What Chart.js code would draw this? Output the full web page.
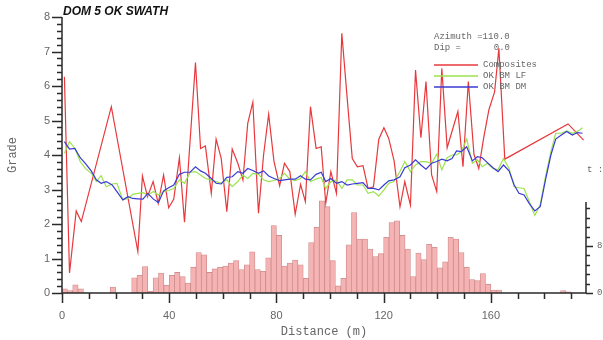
<!DOCTYPE html>
<html>
<head>
<meta charset="utf-8">
<script src="https://cdn.jsdelivr.net/npm/chart.js@4/dist/chart.umd.min.js"></script>
<style>
  html, body { margin: 0; padding: 0; background: #fff; }
  #box { width: 603px; height: 340px; }
</style>
</head>
<body>
<div id="box"><canvas id="swath" width="603" height="340"></canvas></div>
<script>
// composite samples along the swath
const compDist = [0.9, 2.8, 5.3, 7.2, 18.4, 28.3, 30.0, 31.9, 34.0, 35.9, 37.9, 39.8, 41.7, 43.8, 45.7,
  49.8, 51.7, 53.5, 55.7, 57.5, 59.4, 61.5, 63.5, 65.6, 67.5, 69.3, 71.2, 73.3, 75.2, 77.1,
  79.1, 81.2, 83.0, 85.0, 87.0, 89.0, 90.8, 92.7, 94.8, 96.7, 98.4, 100.3, 102.4, 104.4, 106.4,
  108.3, 110.2, 112.3, 114.2, 116.2, 118.2, 120.1, 121.9, 123.9, 126.1, 127.9, 130.0, 131.9, 133.9, 135.8,
  137.9, 139.8, 141.7, 143.7, 147.7, 149.6, 151.6, 153.7, 155.5, 157.4, 159.3, 161.4, 163.0, 165.2, 188.8, 194.6];
const compGrade = [6.27, 0.58, 2.38, 2.07, 5.40, 1.20, 3.39, 2.79, 3.23, 2.60, 3.42, 2.47, 2.72, 3.92, 2.05,
  6.68, 4.19, 4.26, 2.89, 4.46, 3.90, 2.36, 4.17, 3.76, 3.27, 4.92, 5.53, 2.31, 4.00, 5.18,
  3.81, 3.11, 3.76, 3.52, 2.28, 3.15, 2.65, 5.40, 4.19, 4.24, 2.60, 3.52, 2.89, 7.53, 5.64,
  3.90, 3.66, 3.69, 3.03, 3.08, 4.46, 4.79, 4.48, 3.83, 2.50, 3.23, 2.55, 6.46, 4.50, 6.13,
  3.42, 2.94, 6.51, 4.21, 5.26, 3.66, 6.13, 4.02, 3.61, 4.53, 5.32, 5.83, 7.09, 3.88, 4.90, 4.43];

// block model slice centres
const modelDist = [0.9, 2.8, 4.8, 6.8, 8.7, 10.9, 12.8, 14.6, 16.5, 18.7, 20.5, 22.7, 24.6, 26.4, 28.3,
  30.2, 32.0, 34.1, 36.0, 37.9, 39.8, 41.7, 43.8, 45.7, 47.8, 49.8, 51.7, 53.5, 55.7, 57.5,
  59.4, 61.5, 63.5, 65.6, 67.5, 69.3, 71.2, 73.3, 75.2, 77.1, 79.1, 81.2, 83.0, 85.0, 87.0,
  89.0, 90.8, 92.7, 94.8, 96.7, 98.4, 100.3, 102.4, 104.4, 106.4, 108.3, 110.2, 112.3, 114.2, 116.2,
  118.2, 120.1, 121.9, 123.9, 126.1, 127.9, 130.0, 131.9, 133.9, 135.8, 137.9, 139.8, 141.7, 143.7, 145.5,
  147.2, 149.0, 151.0, 153.1, 155.0, 156.8, 158.7, 160.8, 162.7, 164.7, 166.8, 168.7, 170.5, 172.4, 174.3,
  176.4, 178.4, 180.5, 182.4, 184.2, 186.3, 188.3, 190.4, 192.3, 194.2];
const gradeLF = [4.05, 4.39, 4.19, 3.81, 3.61, 3.47, 3.23, 3.40, 3.08, 3.16, 3.18, 2.70, 2.74, 2.86, 2.89,
  2.91, 2.84, 2.94, 2.84, 2.94, 2.97, 3.03, 3.28, 3.18, 3.50, 3.52, 3.42, 3.32, 3.28, 3.23,
  3.18, 3.28, 3.08, 3.23, 3.42, 3.32, 3.47, 3.44, 3.28, 3.23, 3.26, 3.32, 3.47, 3.30, 3.26,
  3.32, 3.52, 3.23, 3.30, 3.35, 3.03, 3.23, 3.28, 3.03, 3.28, 3.28, 3.13, 3.13, 2.89, 2.94,
  2.81, 2.99, 3.18, 3.23, 3.52, 3.81, 3.52, 3.71, 3.81, 3.81, 3.76, 4.02, 3.57, 3.92, 4.00,
  4.00, 4.10, 4.46, 3.76, 3.86, 3.66, 3.76, 3.61, 3.57, 3.90, 3.61, 3.08, 3.05, 3.03, 2.65,
  2.25, 2.55, 3.42, 4.10, 4.63, 4.63, 4.70, 4.63, 4.68, 4.79];
const gradeDM = [4.39, 4.17, 4.19, 3.92, 3.76, 3.54, 3.28, 3.18, 3.23, 3.13, 2.94, 2.70, 2.79, 2.74, 2.73,
  2.72, 2.89, 2.72, 2.62, 2.96, 3.05, 3.13, 3.44, 3.50, 3.50, 3.66, 3.54, 3.47, 3.32, 3.18,
  3.16, 3.35, 3.37, 3.52, 3.47, 3.61, 3.55, 3.47, 3.54, 3.39, 3.32, 3.26, 3.28, 3.30, 3.30,
  3.40, 3.30, 3.28, 3.44, 3.50, 3.23, 3.32, 3.18, 3.23, 3.13, 3.16, 3.18, 3.20, 3.03, 3.03,
  2.99, 3.13, 3.25, 3.28, 3.37, 3.63, 3.71, 3.86, 3.71, 3.59, 3.76, 3.81, 3.88, 3.83, 3.90,
  4.12, 4.10, 4.24, 3.83, 3.95, 3.92, 3.78, 3.63, 3.52, 3.71, 3.54, 3.13, 2.89, 2.84, 2.60,
  2.38, 2.50, 3.32, 4.00, 4.46, 4.58, 4.68, 4.58, 4.65, 4.63];

// sample count per 2 m slice (empty slices left out)
const binMid = [1, 3, 5, 7, 19, 27, 29, 31, 33, 35, 37, 39, 41, 43, 45, 47, 49, 51, 53, 55, 57, 59, 61, 63, 65,
  67, 69, 71, 73, 75, 77, 79, 81, 83, 85, 87, 89, 91, 93, 95, 97, 99, 101, 103, 105, 107, 109, 111, 113, 115,
  117, 119, 121, 123, 125, 127, 129, 131, 133, 135, 137, 139, 141, 143, 145, 147, 149, 151, 153, 155, 157, 159,
  161, 163, 187, 189];
const binCount = [7, 4, 14, 7, 10, 26, 30, 45, 3, 26, 34, 13, 30, 35, 28, 17, 44, 69, 65, 35, 41, 44, 46, 51, 55,
  40, 48, 70, 40, 37, 60, 115, 98, 46, 51, 56, 48, 25, 86, 112, 157, 147, 55, 12, 25, 82, 137, 92, 92, 75,
  62, 67, 95, 120, 123, 98, 75, 28, 68, 57, 83, 78, 43, 53, 95, 92, 69, 44, 23, 21, 33, 15,
  5, 5, 4, 2];

const gradeTicks = [0, 1, 2, 3, 4, 5, 6, 7, 8];
const distTicks = [0, 40, 80, 120, 160];
const countTicks = [0, 80];

const RED = '#e8383c', GREEN = '#9be34c', BLUE = '#3a3ad6';
const pts = (xs, ys) => xs.map((v, i) => ({ x: v, y: ys[i] }));

// axes, labels and the annotation block
const swathAxes = {
  id: 'swathAxes',
  afterDraw(chart) {
    const { ctx, chartArea: a } = chart;
    const { x, y, y2 } = chart.scales;
    ctx.save();
    ctx.strokeStyle = '#2a2a2a';
    ctx.lineWidth = 1.5;

    // grade axis
    ctx.beginPath();
    ctx.moveTo(a.left, a.top);
    ctx.lineTo(a.left, a.bottom);
    for (let v = 0; v <= 40; v++) {
      const py = Math.round(y.getPixelForValue(v / 5)) + 0.5;
      const len = v % 5 === 0 ? 10 : 5;
      ctx.moveTo(a.left, py);
      ctx.lineTo(a.left - len, py);
    }
    ctx.stroke();

    // distance axis
    ctx.beginPath();
    ctx.moveTo(a.left, a.bottom);
    ctx.lineTo(a.right, a.bottom);
    for (let d = 0; d <= 190; d += 10) {
      const px = Math.round(x.getPixelForValue(d)) + 0.5;
      const len = d % 40 === 0 ? 10 : 6;
      ctx.moveTo(px, a.bottom);
      ctx.lineTo(px, a.bottom + len);
    }
    ctx.stroke();

    // count axis, lower right
    ctx.beginPath();
    ctx.moveTo(a.right, y2.getPixelForValue(0));
    ctx.lineTo(a.right, y2.getPixelForValue(155));
    for (let c = 0; c <= 144; c += 16) {
      const py = Math.round(y2.getPixelForValue(c)) + 0.5;
      const len = c % 80 === 0 ? 7 : 4;
      ctx.moveTo(a.right, py);
      ctx.lineTo(a.right + len, py);
    }
    ctx.stroke();

    ctx.fillStyle = '#666';
    ctx.font = '11px "Liberation Sans", Arial, sans-serif';
    ctx.textAlign = 'right';
    ctx.textBaseline = 'middle';
    gradeTicks.forEach(v => ctx.fillText(String(v), a.left - 12, y.getPixelForValue(v)));
    ctx.textAlign = 'center';
    ctx.textBaseline = 'top';
    distTicks.forEach(d => ctx.fillText(String(d), x.getPixelForValue(d), a.bottom + 17));

    ctx.font = '9px "Liberation Mono", monospace';
    ctx.textAlign = 'left';
    ctx.textBaseline = 'middle';
    countTicks.forEach(c => ctx.fillText(String(c), a.right + 11, y2.getPixelForValue(c)));
    ctx.fillText('t :', a.right + 1, 170);

    // axis titles
    ctx.font = '12px "Liberation Mono", monospace';
    ctx.textAlign = 'center';
    ctx.fillText('Distance (m)', (a.left + a.right) / 2, 332);
    ctx.save();
    ctx.translate(13, (a.top + a.bottom) / 2);
    ctx.rotate(-Math.PI / 2);
    ctx.fillText('Grade', 0, 0);
    ctx.restore();

    // chart title
    ctx.fillStyle = '#111';
    ctx.font = 'italic bold 12px "Liberation Sans", Arial, sans-serif';
    ctx.textAlign = 'left';
    ctx.fillText('DOM 5 OK SWATH', a.left + 1, 12);

    // direction note and legend
    ctx.fillStyle = '#666';
    ctx.font = '9px "Liberation Mono", monospace';
    ctx.fillText('Azimuth =110.0', 434, 37);
    ctx.fillText('Dip =', 434, 48);
    ctx.textAlign = 'right';
    ctx.fillText('0.0', 510, 48);
    ctx.textAlign = 'left';
    chart.data.datasets.filter(ds => ds.type !== 'bar').forEach((ds, i) => {
      const ly = 65 + i * 11;
      ctx.strokeStyle = ds.borderColor;
      ctx.lineWidth = 1.3;
      ctx.beginPath();
      ctx.moveTo(434, ly);
      ctx.lineTo(478, ly);
      ctx.stroke();
      ctx.fillText(ds.label, 483, ly);
    });
    ctx.restore();
  }
};

new Chart(document.getElementById('swath'), {
  type: 'line',
  data: {
    datasets: [
      { label: 'Composites', data: pts(compDist, compGrade), borderColor: RED, order: 3 },
      { label: 'OK BM LF', data: pts(modelDist, gradeLF), borderColor: GREEN, order: 2 },
      { label: 'OK BM DM', data: pts(modelDist, gradeDM), borderColor: BLUE, order: 1 },
      {
        type: 'bar', label: 'Samples', data: pts(binMid, binCount), yAxisID: 'y2', order: 4,
        backgroundColor: '#f6b3b3', borderColor: '#cf8c8c', borderWidth: 0.8,
        barPercentage: 1, categoryPercentage: 1
      }
    ]
  },
  options: {
    responsive: false,
    devicePixelRatio: 1,
    animation: false,
    layout: { padding: { left: 62, right: 17, top: 17, bottom: 47 } },
    elements: {
      line: { borderWidth: 1.2, tension: 0, fill: false },
      point: { radius: 0 }
    },
    scales: {
      x: { type: 'linear', min: 0, max: 195.5, offset: false, display: false, ticks: { stepSize: 10 } },
      y: { min: 0, max: 8, display: false },
      y2: { position: 'right', min: 0, max: 470, display: false }
    },
    plugins: { legend: { display: false }, tooltip: { enabled: false } }
  },
  plugins: [swathAxes]
});
</script>
</body>
</html>
